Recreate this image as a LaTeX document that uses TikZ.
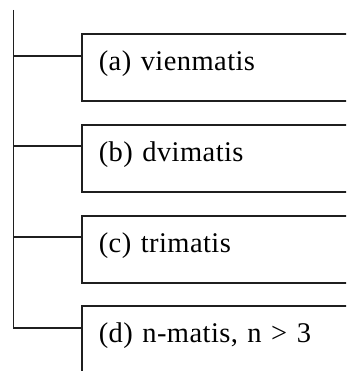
\documentclass[tikz,border=0pt]{standalone}
\usepackage{fontspec}
\setmainfont{Liberation Serif}[LetterSpace=1.5]
\usetikzlibrary{calc}
\begin{document}
\begin{tikzpicture}[x=1pt,y=1pt,
  line/.style={draw=black!88,line width=1.6pt},
  itembox/.style={line, rectangle, anchor=north west, inner ysep=0pt,
    inner xsep=17pt, text height=37pt, text depth=30pt, text width=300pt,
    align=left, font=\fontsize{28.5}{32}\selectfont}]
  \useasboundingbox (0,0) rectangle (346,-371);
  \clip (0,0) rectangle (346,-371);
  % list entries
  \node[itembox] (a) at (81,-33)  {(a) vienmatis};
  \node[itembox] (b) at (81,-124) {(b) dvimatis};
  \node[itembox] (c) at (81,-215) {(c) trimatis};
  \node[itembox] (d) at (81,-305) {(d) n-matis, n > 3};
  % attachment points on the left sides
  \coordinate (pa) at ($(a.north west)+(0,-23)$);
  \coordinate (pb) at ($(b.north west)+(0,-22)$);
  \coordinate (pc) at ($(c.north west)+(0,-22)$);
  \coordinate (pd) at ($(d.north west)+(0,-23)$);
  \coordinate (top) at (13.5,-10);
  % trunk and branches
  \draw[line] (top) |- (pd);
  \draw[line] (pa -| top) -- (pa);
  \draw[line] (pb -| top) -- (pb);
  \draw[line] (pc -| top) -- (pc);
\end{tikzpicture}
\end{document}
